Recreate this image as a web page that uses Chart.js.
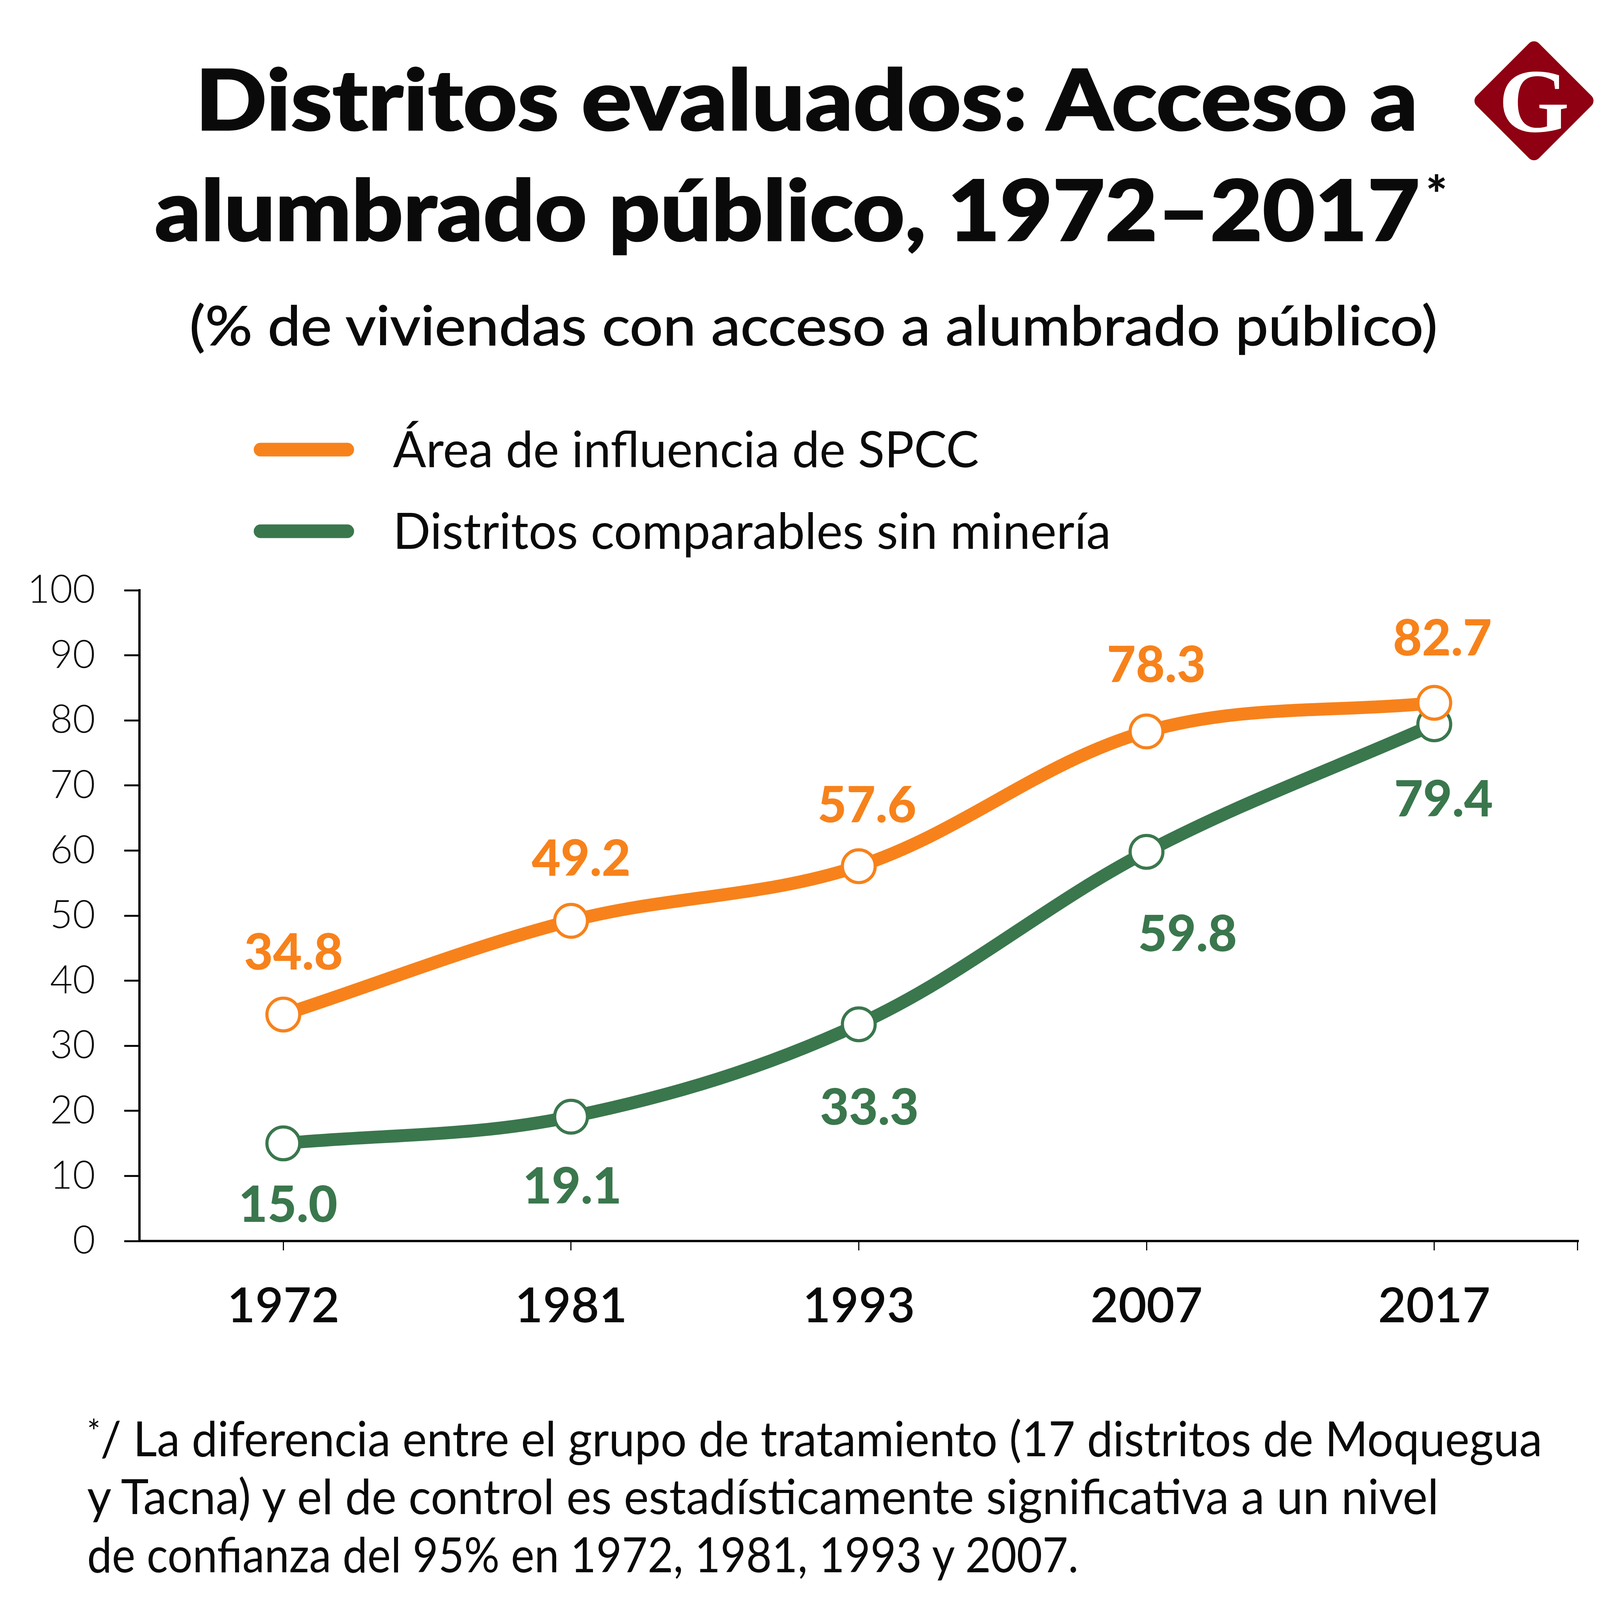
<!DOCTYPE html>
<html>
<head>
<meta charset="utf-8">
<script src="https://cdn.jsdelivr.net/npm/chart.js@4.4.1/dist/chart.umd.min.js"></script>
<style>
  html, body { margin: 0; padding: 0; background: #ffffff; }
  #wrap { position: relative; width: 4150px; height: 4663px; overflow: hidden; background: #ffffff; }
  #overlay { position: absolute; left: 0; top: 0; }
  #chartBox { position: absolute; left: 0; top: 1420px; width: 4150px; height: 2000px; }
  svg text { font-family: "Lato", "Open Sans", "DejaVu Sans", sans-serif; fill: #0a0a0a; }
</style>
</head>
<body>
<script>
// ---- data ----
const years = ['1972', '1981', '1993', '2007', '2017'];
const spccValues = [34.8, 49.2, 57.6, 78.3, 82.7];
const sinMineriaValues = [15.0, 19.1, 33.3, 59.8, 79.4];
const seriesNames = ['Área de influencia de SPCC', 'Distritos comparables sin minería'];
const yTickValues = [0, 10, 20, 30, 40, 50, 60, 70, 80, 90, 100];

const titleLines = ['Distritos evaluados: Acceso a', 'alumbrado público, 1972–2017'];
const subtitleText = '(% de viviendas con acceso a alumbrado público)';
const noteLines = [
  '/ La diferencia entre el grupo de tratamiento (17 distritos de Moquegua',
  'y Tacna) y el de control es estadísticamente significativa a un nivel',
  'de confianza del 95% en 1972, 1981, 1993 y 2007.'
];
const sourceText = 'FUENTE: INEI. Estimación IPE.';
</script>

<div id="wrap">
  <svg id="overlay" xmlns="http://www.w3.org/2000/svg" width="4150" height="4663" viewBox="0 0 4150 4663"></svg>
  <div id="chartBox"><canvas id="c" width="4150" height="2000" style="width:4150px;height:2000px;"></canvas></div>
</div>

<script>
const ORANGE = '#F7821B';
const GREEN = '#3A774D';
const INK = '#0a0a0a';

// ---------- static texts (SVG, real text) ----------
const svg = document.getElementById('overlay');
const NS = 'http://www.w3.org/2000/svg';
function addText(str, attrs) {
  const t = document.createElementNS(NS, 'text');
  for (const k in attrs) t.setAttribute(k, attrs[k]);
  t.textContent = str;
  svg.appendChild(t);
  return t;
}
function addEl(tag, attrs) {
  const e = document.createElementNS(NS, tag);
  for (const k in attrs) e.setAttribute(k, attrs[k]);
  svg.appendChild(e);
  return e;
}

// Title
addText(titleLines[0], { x: 500, y: 333, 'font-size': 215, 'font-weight': 900, textLength: 3130, lengthAdjust: 'spacingAndGlyphs', stroke: INK, 'stroke-width': 3 });
addText(titleLines[1], { x: 396, y: 616, 'font-size': 215, 'font-weight': 900, textLength: 3239, lengthAdjust: 'spacingAndGlyphs', stroke: INK, 'stroke-width': 3 });
addText('*', { x: 3650, y: 545, 'font-size': 130, 'font-weight': 900 });

// Subtitle (medium weight)
addText(subtitleText, { x: 485, y: 884, 'font-size': 140, 'font-weight': 400, textLength: 3195, lengthAdjust: 'spacingAndGlyphs', stroke: INK, 'stroke-width': 1.6 });

// Logo
addEl('rect', { x: 3927 - 113, y: 258 - 113, width: 226, height: 226, rx: 18, ry: 18, fill: '#8E0012', transform: 'rotate(45 3927 258)' });
const g = addText('G', { x: 3927, y: 337, 'font-size': 232, 'font-weight': 700, 'text-anchor': 'middle' });
g.style.fontFamily = '"Liberation Serif", "DejaVu Serif", serif';
g.style.fill = '#ffffff';

// Legend (from the dataset names/colours)
const legendColors = [ORANGE, GREEN];
const legendY = [1151, 1360];
const legendLen = [1500, 1838];
seriesNames.forEach((name, i) => {
  addEl('line', { x1: 667, y1: legendY[i], x2: 889, y2: legendY[i], stroke: legendColors[i], 'stroke-width': 35, 'stroke-linecap': 'round' });
  addText(name, { x: 1006, y: legendY[i] + 45, 'font-size': 128, 'font-weight': 400, textLength: legendLen[i], lengthAdjust: 'spacingAndGlyphs' });
});

// Footnote
const noteBase = [3728, 3876, 4025];
const noteLen = [3725, 3460, 2538];
noteLines.forEach((line, i) => {
  const t = addText('', { x: 223, y: noteBase[i], 'font-size': 125, 'font-weight': 400, textLength: noteLen[i], lengthAdjust: 'spacingAndGlyphs' });
  if (i === 0) {
    const s1 = document.createElementNS(NS, 'tspan');
    s1.setAttribute('font-size', 85);
    s1.setAttribute('dy', -32);
    s1.textContent = '*';
    const s2 = document.createElementNS(NS, 'tspan');
    s2.setAttribute('dy', 32);
    s2.textContent = line;
    t.appendChild(s1); t.appendChild(s2);
  } else {
    t.textContent = line;
  }
});

// Separator + source
addEl('line', { x1: 0, y1: 4183, x2: 4150, y2: 4183, stroke: '#c6c6c6', 'stroke-width': 5 });
addText(sourceText, { x: 223, y: 4465, 'font-size': 130, 'font-weight': 400, textLength: 1538, lengthAdjust: 'spacingAndGlyphs' });

// ---------- chart ----------
const valueLabels = {
  id: 'valueLabels',
  afterDatasetsDraw(chart, args, opts) {
    const ctx = chart.ctx;
    ctx.save();
    ctx.textAlign = 'center';
    ctx.textBaseline = 'alphabetic';
    const size = opts.size;
    ctx.font = opts.weight + ' ' + size + 'px ' + opts.family;
    const capHalf = size * 0.36;
    chart.data.datasets.forEach((ds, di) => {
      const meta = chart.getDatasetMeta(di);
      ctx.fillStyle = ds.borderColor;
      meta.data.forEach((pt, i) => {
        const dy = opts.dy[di][i];
        const dx = opts.dx[di][i];
        ctx.fillText(ds.data[i].toFixed(1), pt.x + dx, pt.y + dy + capHalf);
      });
    });
    ctx.restore();
  }
};

const axisEndTick = {
  id: 'axisEndTick',
  afterDraw(chart) {
    const ctx = chart.ctx;
    const a = chart.chartArea;
    ctx.save();
    ctx.strokeStyle = INK;
    ctx.lineWidth = 3;
    ctx.beginPath();
    ctx.moveTo(a.right - 1.5, a.bottom);
    ctx.lineTo(a.right - 1.5, a.bottom + 24);
    ctx.stroke();
    ctx.restore();
  }
};

function lineDataset(label, data, color) {
  return {
    label: label,
    data: data,
    borderColor: color,
    backgroundColor: color,
    borderWidth: 33,
    tension: 0.35,
    fill: false,
    borderCapStyle: 'round',
    borderJoinStyle: 'round',
    pointRadius: 42,
    pointHoverRadius: 42,
    pointBorderWidth: 8,
    pointBackgroundColor: '#ffffff',
    pointBorderColor: color
  };
}

new Chart(document.getElementById('c').getContext('2d'), {
  type: 'line',
  data: {
    labels: years,
    datasets: [
      lineDataset(seriesNames[0], spccValues, ORANGE),
      lineDataset(seriesNames[1], sinMineriaValues, GREEN)
    ]
  },
  options: {
    responsive: false,
    animation: false,
    devicePixelRatio: 1,
    events: [],
    layout: { padding: { top: 91, right: 110, left: 0, bottom: 0 } },
    plugins: {
      legend: { display: false },
      tooltip: { enabled: false },
      valueLabels: {
        family: '"Lato", "Open Sans", sans-serif',
        weight: '900',
        size: 128,
        dy: [[-161, -161, -158, -173, -167], [155, 176, 211, 208, 190]],
        dx: [[26, 26, 21, 25, 21], [12, 3, 27, 105, 24]]
      }
    },
    scales: {
      x: {
        offset: true,
        grid: { display: true, drawOnChartArea: false, drawTicks: true, tickLength: 24, offset: false, color: INK, lineWidth: 3 },
        border: { display: true, color: INK, width: 6 },
        ticks: { color: INK, font: { family: '"Lato", "Open Sans", sans-serif', size: 124, weight: '600' }, padding: 70, maxRotation: 0 },
        afterFit(s) { s.height = 243; s.paddingLeft = 0; s.paddingRight = 0; }
      },
      y: {
        min: 0,
        max: 100,
        afterBuildTicks(s) { s.ticks = yTickValues.map(v => ({ value: v })); },
        grid: { display: true, drawOnChartArea: false, drawTicks: true, tickLength: 39, color: INK, lineWidth: 5 },
        border: { display: true, color: INK, width: 6 },
        ticks: { color: INK, font: { family: '"Lato", "Open Sans", sans-serif', size: 100, weight: '300' }, padding: 74 },
        afterFit(s) { s.width = 357; s.paddingTop = 0; s.paddingBottom = 0; }
      }
    }
  },
  plugins: [valueLabels, axisEndTick]
});
</script>
</body>
</html>
